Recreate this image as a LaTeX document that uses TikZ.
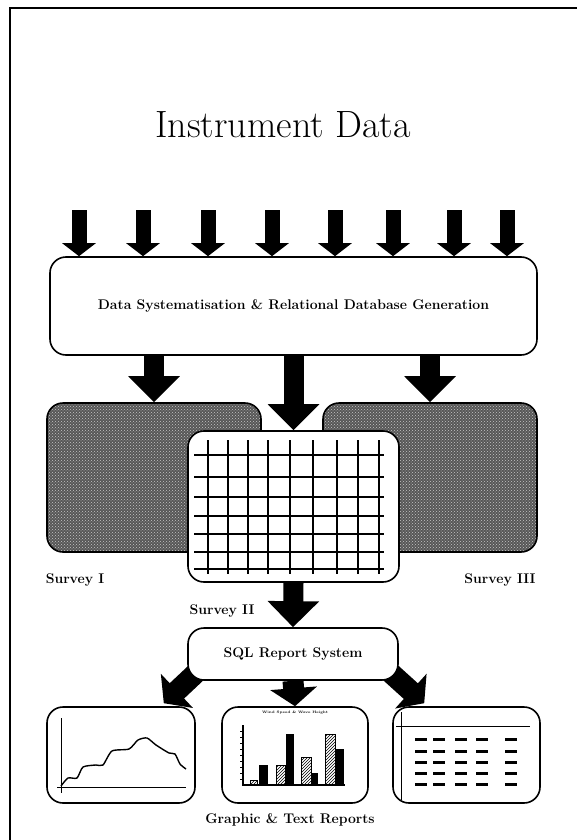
\documentclass[tikz,border=0pt]{standalone}
\usepackage{tikz}
\usetikzlibrary{arrows.meta,positioning,calc,patterns,backgrounds}

\tikzset{
  box/.style={draw,line width=1.6pt,rounded corners=16pt,inner sep=0pt},
  survey/.style={box,preaction={fill=black!66},pattern=crosshatch dots,pattern color=black!22,
    minimum width=214pt,minimum height=149pt},
  lbl/.style={font=\fontsize{14}{16}\selectfont\bfseries},
  inarrow/.style={line width=15pt,-{Triangle[length=13pt,width=33pt]}},
  bigarrow/.style={line width=20pt,-{Triangle[length=26pt,width=50pt]}},
  outarrow/.style={line width=21pt,-{Triangle[length=18pt,width=46pt]}},
}

\begin{document}
\begin{tikzpicture}[x=1pt,y=-1pt]
\useasboundingbox (0,0) rectangle (577,840);
\draw[line width=1.5pt] (577,8) -- (10,8) -- (10,840);

\node[font=\fontsize{38}{44}\selectfont] (title) at (283,125) {Instrument Data};

\node[box,fill=white,minimum width=487pt,minimum height=98pt,lbl] (topbox) at (293.5,306)
  {Data Systematisation \& Relational Database Generation};
\foreach \x [count=\i] in {79,143,208,272,335,393,454,507} {
  \coordinate (in\i) at (\x,210);
  \draw[inarrow] (in\i) -- (in\i |- topbox.north);
}

\node[survey] (survA) at (154,477.5) {};
\node[survey] (survC) at (430,477.5) {};
\node[box,fill=white,minimum width=211pt,minimum height=151pt] (survB) at (293.5,506.5) {};
\foreach \x in {208,228,248,268,290,313,337,358,379}
  \draw[line width=1.4pt] (\x,440) -- (\x,574);
\foreach \y in {455,477,497,516,534,552,569}
  \draw[line width=1.4pt] (194,\y) -- (384,\y);

\draw[bigarrow] (topbox.south -| survA) -- (survA.north);
\draw[bigarrow] (topbox.south) -- (survB.north);
\draw[bigarrow] (topbox.south -| survC) -- (survC.north);

\node[lbl] (labA) at (75,580) {Survey I};
\node[lbl] (labB) at (222,611) {Survey II};
\node[lbl] (labC) at (500,580) {Survey III};

\node[box,fill=white,minimum width=210pt,minimum height=52pt,lbl] (sql) at (293,654) {SQL Report System};
\draw[bigarrow] (survB.south) -- (sql.north);

\node[box,minimum width=148pt,minimum height=96pt] (repA) at (121,755) {};
\node[box,minimum width=146pt,minimum height=96pt] (repB) at (295,755) {};
\node[box,minimum width=147pt,minimum height=96pt] (repC) at (466.5,755) {};

\begin{scope}[on background layer]
  \draw[outarrow] ($(sql.south west)+(27,-25)$) -- ($(repA.north east)+(-32,-3)$);
  \draw[outarrow] ($(sql.south east)+(-27,-25)$) -- ($(repC.north west)+(32,-3)$);
\end{scope}
\draw[outarrow] (sql.south) -- (repB.north);

% line chart
\draw[line width=1pt] (61,718) -- (61,793);
\draw[line width=1pt] (57,787) -- (186,787);
\draw[line width=1.4pt] plot[smooth,tension=0.4] coordinates {(61,786) (68,778) (77,778) (83,767) (96,765) (103,765)
  (112,751) (129,749) (138,740) (147,738) (156,745) (169,753) (175,754) (180,764) (186,769)};

% bar chart
\node[font=\fontsize{3.5}{4}\selectfont\bfseries] (chartB) at (295,713) {Wind Speed \& Wave Height};
\draw[line width=1.5pt] (243,725) -- (243,785) -- (345,785);
\foreach \y in {731,737,...,779}
  \draw[line width=0.8pt] (240,\y) -- (243,\y);
\foreach \a/\b/\t in {259/268/765,286/294/734,311/318/773,335/344/749}
  \fill (\a,785) rectangle (\b,\t);
\foreach \a/\b/\t in {250/257/780,276/285/765,301/311/757,325/335/734}
  \draw[line width=1pt,pattern=north east lines] (\a,785) rectangle (\b,\t);

% table
\draw[line width=1pt] (401,712) -- (401,800);
\draw[line width=1pt] (396,726) -- (530,726);
\foreach \cx in {421,439,461,482,511}
  \foreach \cy in {739,751,762,773,784}
    \draw[line width=3pt] (\cx-6,\cy) -- (\cx+6,\cy);

\node[lbl] (footer) at (290,820) {Graphic \& Text Reports};
\end{tikzpicture}
\end{document}
